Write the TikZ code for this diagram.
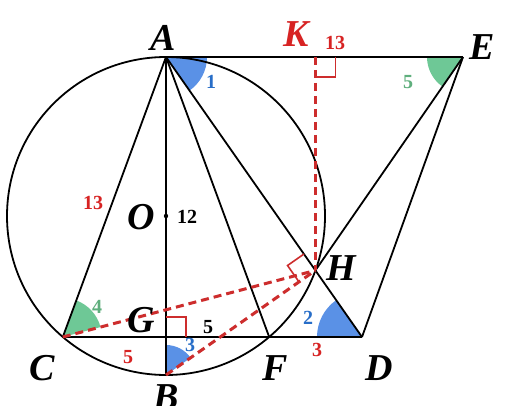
\documentclass[tikz,border=0pt]{standalone}
\usepackage{fontspec}
\setmainfont{Liberation Serif}
\usetikzlibrary{calc,angles}
\definecolor{angblue}{RGB}{90,145,230}
\definecolor{txtblue}{RGB}{40,110,200}
\definecolor{anggreen}{RGB}{110,200,150}
\definecolor{txtgreen}{RGB}{95,175,125}
\definecolor{txtred}{RGB}{215,35,35}
\definecolor{auxred}{RGB}{205,45,45}
\begin{document}
\begin{tikzpicture}[x=1pt,y=1pt,
  geo/.style={line width=1.8pt},
  aux/.style={draw=auxred,line width=3pt,dash pattern=on 8pt off 5pt},
  rmark/.style={draw=auxred,line width=1.6pt},
  ptlabel/.style={font=\fontsize{38}{38}\selectfont\bfseries\itshape, inner sep=0},
  numlabel/.style={font=\fontsize{20}{20}\selectfont\bfseries, inner sep=0}]
\useasboundingbox (0,0) rectangle (505,-406);
\fill[white] (0,0) rectangle (505,-406);
% points
\coordinate (O) at (166,-216);
\coordinate (A) at (166,-57);
\coordinate (B) at (166,-375);
\coordinate (C) at (62.8,-337);
\coordinate (F) at (269.2,-337);
\coordinate (G) at (166,-337);
\coordinate (D) at (362,-337);
\coordinate (E) at (463,-57);
\coordinate (H) at ($(A)!0.7622!(D)$);
\coordinate (K) at (H |- A);
% angle sectors
\pic[fill=angblue, angle radius=41pt] {angle=D--A--E};
\pic[fill=anggreen, angle radius=36pt] {angle=A--E--H};
\pic[fill=angblue, angle radius=45pt] {angle=A--D--C};
\pic[fill=angblue, angle radius=30pt] {angle=H--B--A};
\pic[fill=anggreen, angle radius=39pt] {angle=H--C--A};
% circle and lines
\draw[geo] (O) circle[radius=159];
\draw[geo] (A) -- (E);
\draw[geo] (A) -- (C);
\draw[geo] (A) -- (B);
\draw[geo] (A) -- (F);
\draw[geo] (A) -- (D);
\draw[geo] (C) -- (D);
\draw[geo] (E) -- (H);
\draw[geo] (E) -- (D);
\fill (O) circle[radius=2.2];
% auxiliary dashed lines
\draw[aux] (K) -- (H);
\draw[aux] (C) -- (H);
\draw[aux] (B) -- (H);
% right angle marks
\draw[rmark] ($(K)+(0,-20)$) -- ($(K)+(20,-20)$) -- ($(K)+(20,0)$);
\draw[rmark] ($(G)+(0,20)$) -- ($(G)+(20,20)$) -- ($(G)+(20,0)$);
\coordinate (HA) at ($(H)!20pt!(A)$);
\coordinate (HB) at ($(H)!20pt!(B)$);
\coordinate (HC) at ($(HA)+(HB)-(H)$);
\draw[rmark] (HA) -- (HC) -- (HB);
% point labels
\node[ptlabel] (lA) at (163,-38) {A};
\node[ptlabel, text=txtred] (lK) at (296,-34) {K};
\node[ptlabel] (lE) at (482,-47) {E};
\node[ptlabel] (lO) at (141,-217) {O};
\node[ptlabel] (lH) at (341,-268) {H};
\node[ptlabel] (lG) at (141,-320) {G};
\node[ptlabel] (lC) at (42,-368) {C};
\node[ptlabel] (lB) at (166,-397) {B};
\node[ptlabel] (lF) at (275,-368) {F};
\node[ptlabel] (lD) at (379,-368) {D};
% number labels
\node[numlabel, text=txtred] (n13a) at (335,-43) {13};
\node[numlabel, text=txtblue] (n1) at (211,-82) {1};
\node[numlabel, text=txtgreen] (n5a) at (408,-82) {5};
\node[numlabel, text=txtred] (n13b) at (93,-203) {13};
\node[numlabel] (n12) at (187,-217) {12};
\node[numlabel, text=txtgreen] (n4) at (97,-307) {4};
\node[numlabel] (n5b) at (208,-327) {5};
\node[numlabel, text=txtblue] (n2) at (308,-318) {2};
\node[numlabel, text=txtblue] (n3a) at (190,-345) {3};
\node[numlabel, text=txtred] (n5c) at (128,-357) {5};
\node[numlabel, text=txtred] (n3b) at (317,-350) {3};
\end{tikzpicture}
\end{document}
